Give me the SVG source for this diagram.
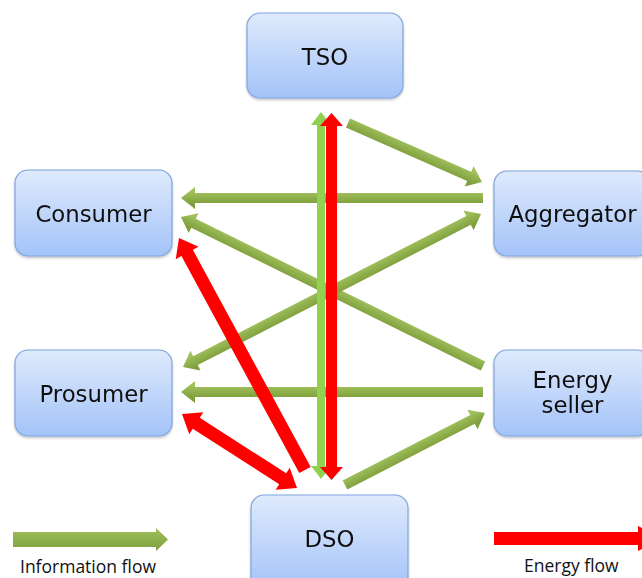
<svg xmlns="http://www.w3.org/2000/svg" width="642" height="578" viewBox="0 0 642 578">
<style>
.node rect{fill:url(#nodeGrad);stroke:#7fa5de;stroke-width:1.2}
.lbl{font-family:"DejaVu Sans","Verdana",sans-serif;font-size:22.8px;fill:#111;text-anchor:middle}
.leg{font-family:"Open Sans","Liberation Sans",sans-serif;font-size:17.5px;fill:#111}
.ga{fill:url(#greenGrad)}
.gv{fill:#92d050}
.ra{fill:#ff0000}
</style>
<defs>
<linearGradient id="nodeGrad" x1="0" y1="0" x2="0" y2="1">
<stop offset="0" stop-color="#dfeafc"/>
<stop offset="1" stop-color="#a3c3f8"/>
</linearGradient>
<linearGradient id="greenGrad" gradientUnits="userSpaceOnUse" x1="0" y1="-6" x2="0" y2="6">
<stop offset="0" stop-color="#9fc05c"/>
<stop offset="1" stop-color="#7f9f3d"/>
</linearGradient>
<linearGradient id="legGrad" x1="0" y1="0" x2="0" y2="1">
<stop offset="0" stop-color="#9fc05c"/>
<stop offset="1" stop-color="#7f9f3d"/>
</linearGradient>
<filter id="sh" x="-10%" y="-10%" width="120%" height="130%">
<feDropShadow dx="0" dy="1.5" stdDeviation="1.2" flood-color="#000" flood-opacity="0.25"/>
</filter>
</defs>

<g id="nodes" filter="url(#sh)">
<g id="tso" class="node"><rect x="247" y="13" width="156" height="85" rx="13"/><text class="lbl" x="325" y="65">TSO</text></g>
<g id="consumer" class="node"><rect x="15" y="170" width="157" height="86" rx="13"/><text class="lbl" x="93.5" y="222">Consumer</text></g>
<g id="aggregator" class="node"><rect x="494" y="171" width="156" height="85" rx="13"/><text class="lbl" x="572.5" y="222">Aggregator</text></g>
<g id="prosumer" class="node"><rect x="15" y="350" width="157" height="86" rx="13"/><text class="lbl" x="93.5" y="402">Prosumer</text></g>
<g id="energy-seller" class="node"><rect x="494" y="350" width="156" height="86" rx="13"/><text class="lbl" x="572.5" y="388">Energy</text><text class="lbl" x="572.5" y="413">seller</text></g>
<g id="dso" class="node"><rect x="251" y="495" width="157" height="95" rx="13"/><text class="lbl" x="329.5" y="547">DSO</text></g>
</g>

<g id="connectors">
<!-- information flows -->
<path class="ga" transform="translate(348,123) rotate(23.76)" d="M0,-5 H132.4 V-11 L146.4,0 L132.4,11 V5 H0 Z"/>
<path class="ga" transform="translate(483,198) scale(-1,1)" d="M0,-5 H288 V-11 L302,0 L288,11 V5 H0 Z"/>
<path class="ga" transform="translate(483,366) scale(-1,1) rotate(-26.26)" d="M0,-5 H322.8 V-11 L336.8,0 L322.8,11 V5 H0 Z"/>
<path class="ga" transform="translate(183,367) rotate(-27.18)" d="M0,0 L14,-11 V-5 H321 V-11 L335,0 L321,11 V5 H14 V11 Z"/>
<path class="ga" transform="translate(483,392) scale(-1,1)" d="M0,-5 H288 V-11 L302,0 L288,11 V5 H0 Z"/>
<path class="ga" transform="translate(345,485) rotate(-27.22)" d="M0,-5 H143.4 V-11 L157.4,0 L143.4,11 V5 H0 Z"/>
<polygon class="gv" points="321,112 331,125 325,125 325,466 331,466 321,479 311,466 317,466 317,125 311,125"/>
<!-- energy flows -->
<path class="ra" transform="translate(305,470) rotate(-118.5)" d="M0,-6.5 H247 V-13 L264,0 L247,13 V6.5 H0 Z"/>
<path class="ra" transform="translate(182,414) rotate(32.76)" d="M0,0 L17,-13 V-6.5 H119.75 V-13 L136.75,0 L119.75,13 V6.5 H17 V13 Z"/>
<polygon class="ra" points="331.5,113 343,126 337,126 337,467 343,467 331.5,480 320,467 326,467 326,126 320,126"/>
</g>

<g id="legend">
<path fill="url(#legGrad)" d="M13,532 H156 V528 L168,539.5 L156,551 V547 H13 Z"/>
<text class="leg" x="20" y="573">Information flow</text>
<path class="ra" d="M494,532 H638 V526 L662,538.5 L638,551 V545 H494 Z"/>
<text class="leg" x="524" y="572">Energy flow</text>
</g>
</svg>
